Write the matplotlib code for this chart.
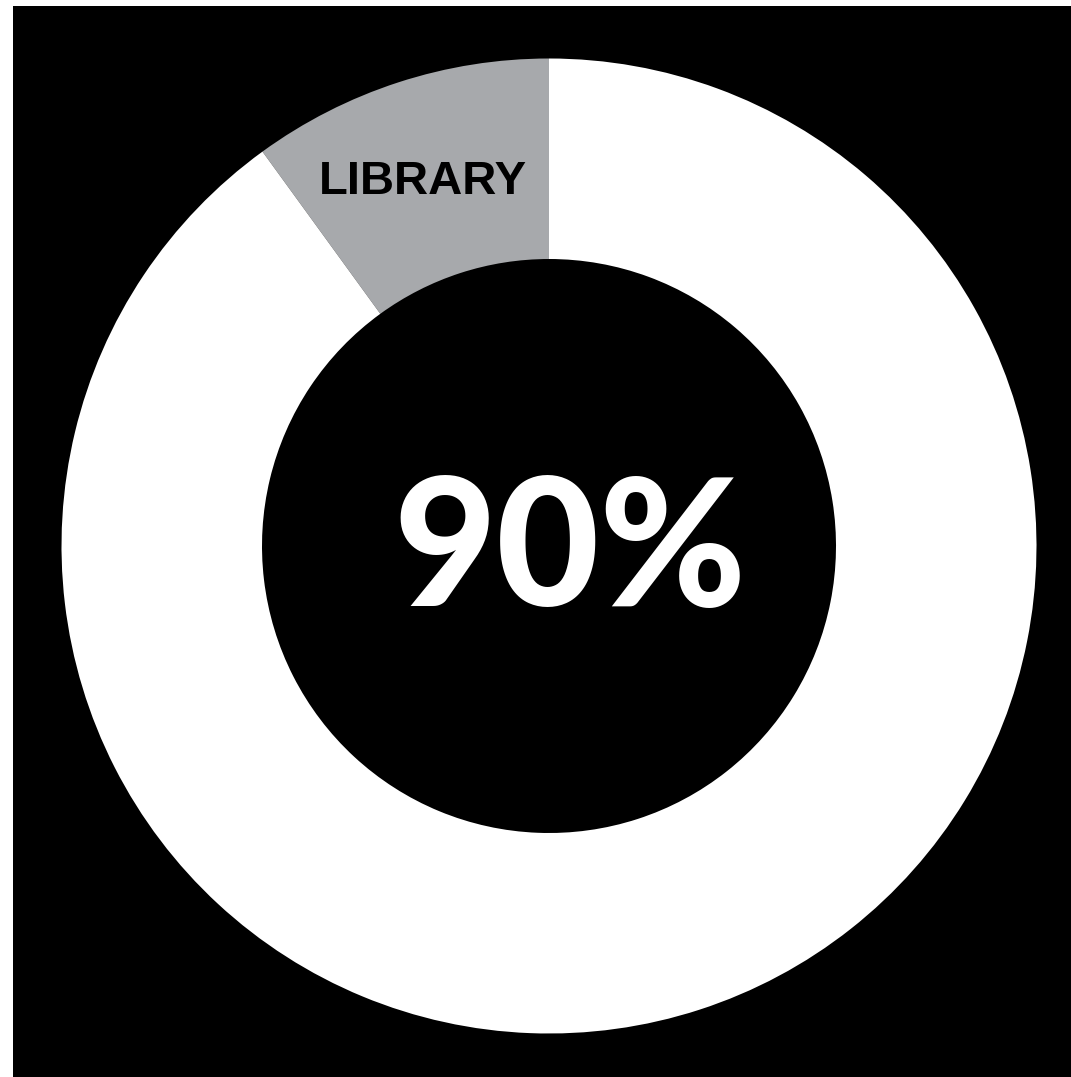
import matplotlib.pyplot as plt

# shares of the ring, gray slice first so it sits just left of 12 o'clock
shares = [10, 90]
slice_labels = ['LIBRARY', '']
slice_colors = ['#a7a9ac', '#ffffff']
center_text = '90%'

W, H = 1071, 1077
fig = plt.figure(figsize=(W / 100, H / 100), dpi=100)
fig.patch.set_facecolor('white')

# black panel (thin white margin at top and left)
bg = fig.add_axes([13 / W, 0, (W - 13) / W, (H - 6) / H])
bg.set_facecolor('black')
bg.set_xticks([])
bg.set_yticks([])
for s in bg.spines.values():
    s.set_visible(False)

# pixel-coordinate axes for the donut
ax = fig.add_axes([0, 0, 1, 1])
ax.patch.set_alpha(0)

cx, cy = 549, H - 546
r_out, r_in = 487.5, 287
ax.pie(shares, colors=slice_colors, startangle=90, counterclock=True,
       center=(cx, cy), radius=r_out, frame=True,
       wedgeprops=dict(width=r_out - r_in, linewidth=0))
ax.set_xlim(0, W)
ax.set_ylim(0, H)
ax.set_aspect('equal')
ax.axis('off')

ax.text(423, H - 194, slice_labels[0], ha='center', va='baseline',
        fontsize=34, fontweight='bold', family=['Liberation Sans', 'DejaVu Sans'],
        color='black')
ax.text(570, H - 606, center_text, ha='center', va='baseline',
        fontsize=128, fontweight='black', family=['Lato', 'DejaVu Sans'],
        color='white')

fig.savefig('out.png', dpi=100, facecolor=fig.get_facecolor())
